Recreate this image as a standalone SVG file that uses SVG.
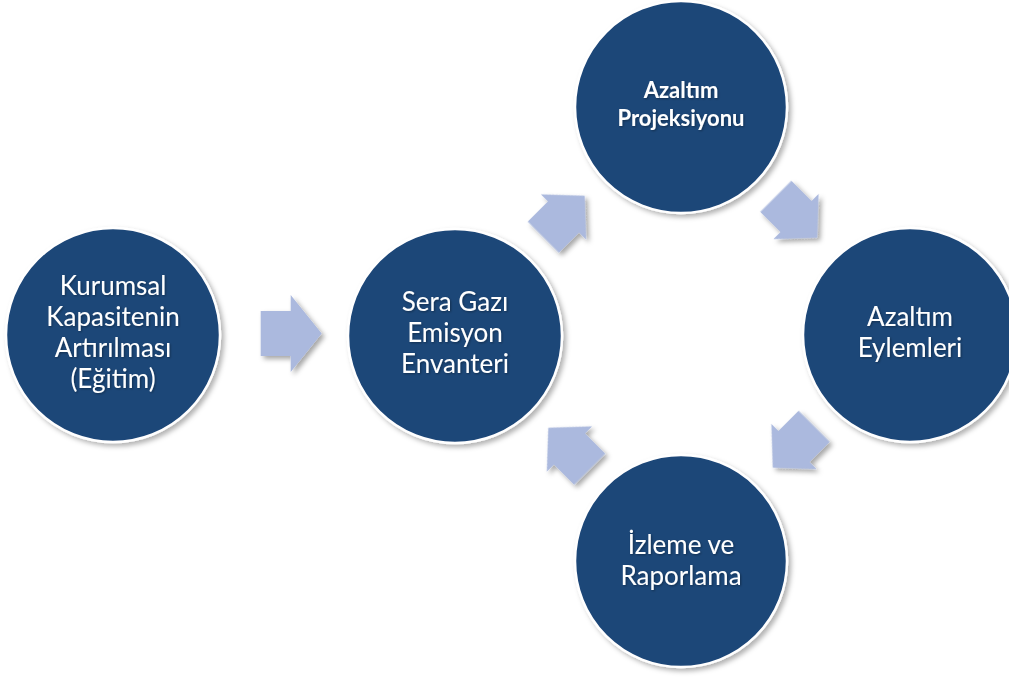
<svg xmlns="http://www.w3.org/2000/svg" width="1009" height="678" viewBox="0 0 1009 678">
  <defs>
    <style>
      .node circle { fill: #1d4678; stroke: #ffffff; stroke-width: 2.5; filter: url(#nodeShadow); }
      .label { font-family: Lato, "Open Sans", "Liberation Sans", sans-serif; font-size: 26px; fill: #ffffff; text-anchor: middle; filter: url(#textShadow); }
      .label.bold { font-weight: bold; font-size: 22px; }
      .arrow { fill: #abb9de; }
    </style>
    <filter id="nodeShadow" x="-20%" y="-20%" width="140%" height="140%">
      <feDropShadow dx="3" dy="3" stdDeviation="2.5" flood-color="#000000" flood-opacity="0.3"/>
    </filter>
    <filter id="arrowShadow" x="-20%" y="-20%" width="140%" height="140%">
      <feDropShadow dx="3" dy="3" stdDeviation="2.5" flood-color="#000000" flood-opacity="0.35"/>
    </filter>
    <filter id="textShadow" x="-10%" y="-20%" width="120%" height="140%">
      <feDropShadow dx="1" dy="1" stdDeviation="0.8" flood-color="#000000" flood-opacity="0.35"/>
    </filter>
    <!-- block arrows, origin at the middle of the head base, pointing along +x -->
    <path id="arrowWide" d="M -30,-22.5 L 0,-22.5 L 0,-38.5 L 31,0 L 0,38.5 L 0,22.5 L -30,22.5 Z"/>
    <path id="arrowSlim" d="M -28.5,-22 L 0,-22 L 0,-32 L 30,0 L 0,32 L 0,22 L -28.5,22 Z"/>
  </defs>

  <rect x="0" y="0" width="1009" height="678" fill="#ffffff"/>

  <!-- connectors -->
  <g id="connectors" class="arrow" filter="url(#arrowShadow)">
    <use href="#arrowWide" transform="translate(290.7,333.5)"/>
    <use href="#arrowSlim" transform="translate(563.5,217) rotate(-45)"/>
    <use href="#arrowSlim" transform="translate(796,216.5) rotate(45)"/>
    <use href="#arrowSlim" transform="translate(794,446.5) rotate(135)"/>
    <use href="#arrowSlim" transform="translate(569.5,449) rotate(-135)"/>
  </g>

  <!-- nodes -->
  <g id="node-kurumsal" class="node">
    <circle cx="113" cy="335" r="107"/>
    <text class="label" x="113" y="295">Kurumsal</text>
    <text class="label" x="113" y="326">Kapasitenin</text>
    <text class="label" x="113" y="357">Artırılması</text>
    <text class="label" x="113" y="388">(Eğitim)</text>
  </g>

  <g id="node-envanter" class="node">
    <circle cx="455" cy="336" r="107"/>
    <text class="label" x="455" y="311">Sera Gazı</text>
    <text class="label" x="455" y="342">Emisyon</text>
    <text class="label" x="455" y="373">Envanteri</text>
  </g>

  <g id="node-projeksiyon" class="node">
    <circle cx="681" cy="107" r="106"/>
    <text class="label bold" x="681" y="98">Azaltım</text>
    <text class="label bold" x="681" y="126">Projeksiyonu</text>
  </g>

  <g id="node-eylemler" class="node">
    <circle cx="910" cy="335" r="107"/>
    <text class="label" x="910" y="326">Azaltım</text>
    <text class="label" x="910" y="357">Eylemleri</text>
  </g>

  <g id="node-izleme" class="node">
    <circle cx="681" cy="561" r="106"/>
    <text class="label" x="681" y="554">İzleme ve</text>
    <text class="label" x="681" y="585">Raporlama</text>
  </g>
</svg>
